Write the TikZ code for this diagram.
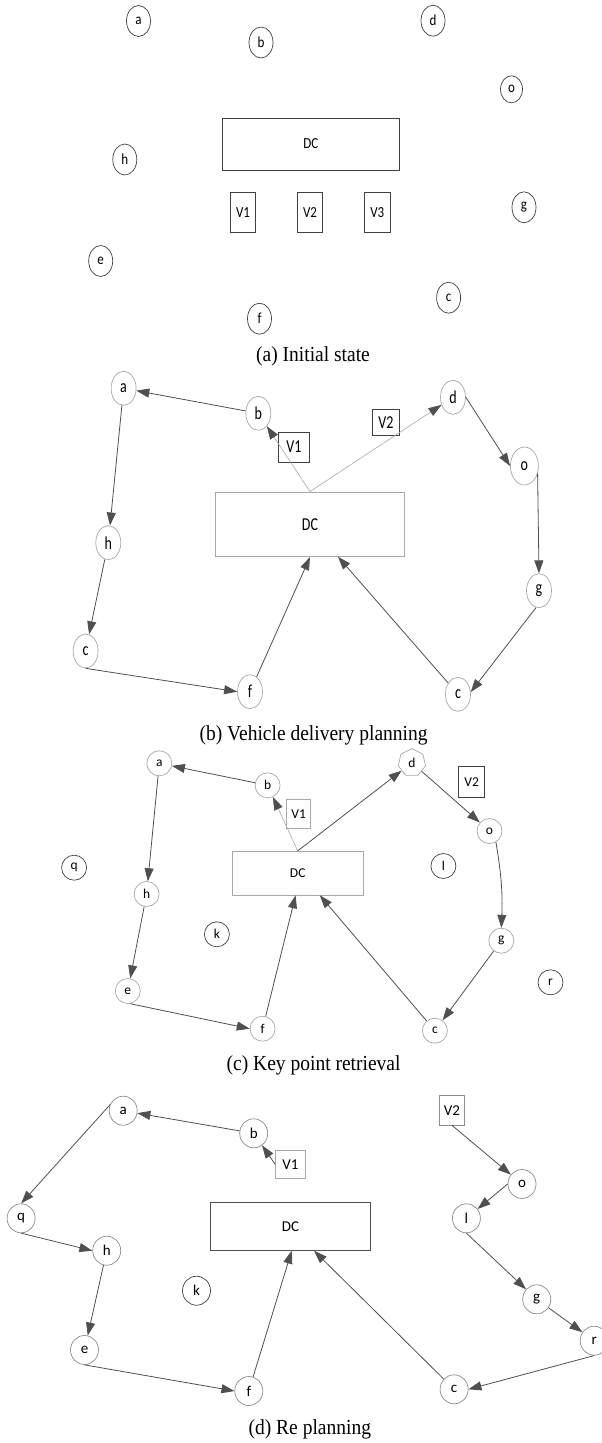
\documentclass[tikz,border=0pt]{standalone}
\usepackage{fontspec}
\usepackage{graphicx}
\setmainfont{Liberation Serif}
\newfontfamily\labfont{Carlito}
\usetikzlibrary{shapes.geometric,arrows.meta}
\newcommand{\stA}[1]{\scalebox{1}[1.18]{#1}}
\newcommand{\stB}[1]{\scalebox{1}[1.3]{#1}}
\newcommand{\stC}[1]{\scalebox{1}[1.1]{#1}}
\definecolor{dk}{HTML}{404040}
\definecolor{ln}{HTML}{505050}
\definecolor{lt}{HTML}{A8A8A8}
\definecolor{md}{HTML}{8C8C8C}
\begin{document}
\begin{tikzpicture}[x=1pt,y=-1pt,
  vtx/.style={ellipse, draw, inner sep=0pt, line width=0.7pt},
  box/.style={rectangle, draw, inner sep=0pt, line width=0.8pt},
  arr/.style={draw=ln, line width=0.8pt, -{Triangle[length=13pt,width=9pt,color=ln]}},
  larr/.style={draw=lt, line width=0.6pt, -{Triangle[length=13pt,width=9pt,color=ln]}},
  captxt/.style={font=\fontsize{19.5}{20}\selectfont, inner sep=0pt},
  fA/.style={font=\labfont\fontsize{13}{13}\selectfont},
  fB/.style={font=\labfont\fontsize{14}{14}\selectfont},
  fC/.style={font=\labfont\fontsize{13.5}{13.5}\selectfont},
  fD/.style={font=\labfont\fontsize{15}{15}\selectfont},
  vtxA/.style={vtx, fA, draw=dk, minimum width=24pt, minimum height=31pt},
  vtxB/.style={vtx, fB, draw=lt, minimum width=25pt, minimum height=34pt},
  vtxC/.style={vtx, fC, draw=lt, minimum width=25pt, minimum height=25pt},
  vtxCd/.style={vtx, fC, draw=dk, minimum width=25pt, minimum height=25pt},
  vtxD/.style={vtx, fD, draw=md, minimum width=28pt, minimum height=29pt},
  vtxDd/.style={vtx, fD, draw=dk, minimum width=28pt, minimum height=29pt}
]
\fill[white] (0,0) rectangle (602,1443);
\useasboundingbox (0,0) rectangle (602,1443);

% ---------------- (a) ----------------
\node[vtxA] (aa) at (138.5,21) {\stA{a}};
\node[vtxA] (ab) at (261,42.5) {\stA{b}};
\node[vtxA] (ad) at (433,20.7) {\stA{d}};
\node[vtxA, minimum width=22pt, minimum height=27pt] (ao) at (511.5,89.3) {\stA{o}};
\node[vtxA] (ah) at (124.8,159.5) {\stA{h}};
\node[vtxA] (ag) at (524,207.3) {\stA{g}};
\node[vtxA] (ae) at (100.7,261) {\stA{e}};
\node[vtxA] (ac) at (448.6,297.7) {\stA{c}};
\node[vtxA] (af) at (259.5,318.7) {\stA{f}};
\node[box, fA, draw=dk, minimum width=177pt, minimum height=52pt] (aDC) at (310.8,144) {\stA{DC}};
\node[box, fA, draw=dk, minimum width=25.5pt, minimum height=40.7pt] (aV1) at (243,212.3) {\stA{V1}};
\node[box, fA, draw=dk, minimum width=25.5pt, minimum height=40.7pt] (aV2) at (310,212.3) {\stA{V2}};
\node[box, fA, draw=dk, minimum width=25.5pt, minimum height=40.7pt] (aV3) at (377.3,212.3) {\stA{V3}};
\node[captxt] (capA) at (313,356) {\stC{(a) Initial state}};

% ---------------- (b) ----------------
\node[vtxB] (ba) at (123.6,388.3) {\stB{a}};
\node[vtxB] (bb) at (258.3,413.3) {\stB{b}};
\node[vtxB] (bd) at (453,397.3) {\stB{d}};
\node[vtxB, minimum width=28pt, minimum height=38pt] (bo) at (524.4,466) {\stB{o}};
\node[vtxB] (bh) at (108.3,542.7) {\stB{h}};
\node[vtxB] (bg) at (539,590.7) {\stB{g}};
\node[vtxB] (bc1) at (85.6,651) {\stB{c}};
\node[vtxB] (bf) at (250,691.7) {\stB{f}};
\node[vtxB] (bc2) at (458,694.3) {\stB{c}};
\node[box, fB, draw=lt, minimum width=188.5pt, minimum height=64.7pt] (bDC) at (310,524.3) {\stB{DC}};
\node[box, fB, draw=dk, minimum width=31pt, minimum height=30pt] (bV1) at (293.9,447) {\stB{V1}};
\node[box, fB, draw=dk, minimum width=27.2pt, minimum height=26.3pt] (bV2) at (386,422.2) {\stB{V2}};
\coordinate (bIn) at (338,556.7);
\draw[arr] (bb) -- (ba);
\draw[arr] (ba) -- (bh);
\draw[arr] (bh) -- (bc1);
\draw[arr] (bc1.south) -- (bf.west);
\draw[arr] (bf) -- (bDC.south);
\draw[arr] (bc2) -- (bIn);
\draw[larr] (bDC.north) -- (bb);
\draw[larr] (bDC.north) -- (bd);
\draw[arr] (bd.east) -- (bo.west);
\draw[arr] (bo.-30) -- (bg.north);
\draw[arr] (bg.-100) -- (bc2.10);
\node[captxt] (capB) at (313.6,735) {\stC{(b) Vehicle delivery planning}};

% ---------------- (c) ----------------
\node[vtxC] (ca) at (159.3,763.3) {a};
\node[vtxC] (cb) at (267.6,785.3) {b};
\node[regular polygon, regular polygon sides=7, draw=lt, line width=0.7pt, inner sep=0pt, minimum size=28pt, fC] (cd) at (411.9,762.7) {d};
\node[vtxC] (co) at (489.5,831) {o};
\node[vtxCd] (cq) at (74.1,867.7) {q};
\node[vtxCd] (cl) at (443.4,866) {l};
\node[vtxC] (ch) at (146.6,894) {h};
\node[vtxCd] (ck) at (216.9,934.3) {k};
\node[vtxC] (cg) at (501.3,940.7) {g};
\node[vtxCd] (cr) at (550.5,982.3) {r};
\node[vtxC] (ce) at (127.8,991) {e};
\node[vtxC] (cf) at (262.6,1028.7) {f};
\node[vtxC] (cc) at (434.9,1030.7) {c};
\node[box, fC, draw=lt, minimum width=130.9pt, minimum height=44pt] (cDC) at (297.7,873.3) {DC};
\node[box, fC, draw=lt, minimum width=23.8pt, minimum height=29.4pt] (cV1) at (298.7,814) {V1};
\node[box, fC, draw=dk, minimum width=26.2pt, minimum height=30.3pt] (cV2) at (471.6,781.9) {V2};
\coordinate (cIn1) at (295.6,895.3);
\coordinate (cIn2) at (319.8,895.3);
\draw[arr] (cb) -- (ca);
\draw[arr] (ca) -- (ch);
\draw[arr] (ch) -- (ce);
\draw[arr] (ce.-80) -- (cf.west);
\draw[arr] (cf) -- (cIn1);
\draw[arr] (cc) -- (cIn2);
\draw[larr] (cDC.north) -- (cb);
\draw[arr] (cDC.north) -- (cd);
\draw[arr] (cd) -- (co);
\draw[arr] (co.-60) to[bend left=6] (cg.north);
\draw[arr] (cg) -- (cc);
\node[captxt] (capC) at (313.6,1065) {\stC{(c) Key point retrieval}};

% ---------------- (d) ----------------
\node[vtxD] (da) at (123.2,1110.7) {a};
\node[vtxD] (db) at (253.7,1133.3) {b};
\node[vtxD] (do) at (522,1184) {o};
\node[vtxD] (dq) at (21.1,1218.3) {q};
\node[vtxD] (dl) at (466.4,1218.3) {l};
\node[vtxD] (dh) at (106.7,1250.7) {h};
\node[vtxDd] (dk) at (196.5,1290.7) {k};
\node[vtxD] (dg) at (536.7,1299.3) {g};
\node[vtxD] (dr) at (594.2,1340.7) {r};
\node[vtxD] (de) at (84.5,1350) {e};
\node[vtxD] (df) at (248.8,1391) {f};
\node[vtxD] (dc) at (454.1,1389.3) {c};
\node[box, fD, draw=ln, minimum width=159.3pt, minimum height=48pt] (dDC) at (290.4,1226.7) {DC};
\node[box, fD, draw=lt, minimum width=29.6pt, minimum height=28.7pt] (dV1) at (290.4,1164.3) {V1};
\node[box, fD, draw=md, minimum width=25pt, minimum height=29.3pt] (dV2) at (452,1110.3) {V2};
\coordinate (dIn1) at (291.7,1250.7);
\coordinate (dIn2) at (314,1250.7);
\draw[arr] (db) -- (da);
\draw[arr] (da.155) -- (dq.north);
\draw[arr] (dq.south) -- (dh.west);
\draw[arr] (dh) -- (de);
\draw[arr] (de.south) -- (df.west);
\draw[arr] (df) -- (dIn1);
\draw[arr] (dc) -- (dIn2);
\draw[arr] (dV1.west) -- (db);
\draw[arr] (dV2.south) -- (do);
\draw[arr] (do.west) -- (dl);
\draw[arr] (dl.south) -- (dg);
\draw[arr] (dg) -- (dr);
\draw[arr] (dr.south) -- (dc.east);
\node[captxt] (capD) at (309.8,1429.3) {\stC{(d) Re planning}};
\end{tikzpicture}
\end{document}
